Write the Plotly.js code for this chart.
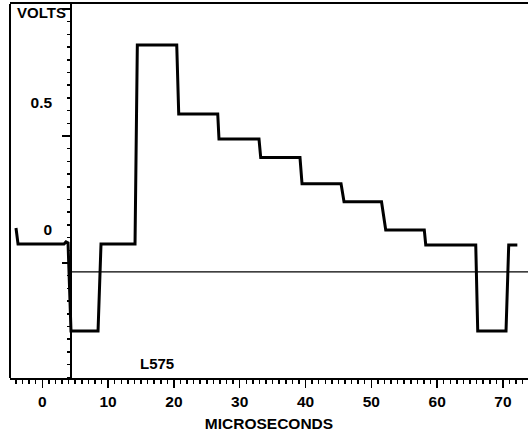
<!DOCTYPE html>
<html>
<head>
<meta charset="utf-8">
<script src="https://cdn.plot.ly/plotly-3.0.1.min.js"></script>
<style>html,body{margin:0;padding:0;background:#fff;}#chart{width:528px;height:433px;}</style>
</head>
<body>
<div id="chart"></div>
<script>
// Waveform L575 (time in microseconds, amplitude in volts)
var timeUs = [-4.0, -3.69, 3.30, 3.60, 3.91, 4.36, 8.47, 8.92, 14.09, 14.44, 20.43, 20.73, 26.66, 26.85, 32.93, 33.19, 39.16, 39.47, 45.40, 45.85, 51.55, 52.19, 58.05, 58.27, 65.87, 66.17, 70.47, 70.88, 72.19];
var volts  = [0.138, 0.075, 0.075, 0.083, 0.079, -0.268, -0.268, 0.075, 0.075, 0.858, 0.858, 0.587, 0.587, 0.488, 0.488, 0.415, 0.415, 0.312, 0.312, 0.241, 0.241, 0.130, 0.130, 0.071, 0.071, -0.268, -0.268, 0.071, 0.071];

// thin reference level line
var refLineX = [4.4, 74.0];
var refLineY = [-0.035, -0.035];

// axis settings
var xRange = [-4.91, 73.81];
var yRange = [-0.4528, 1.0197];
var yAxisAtUs = 4.4;
var yTickVals = [0, 0.5, 1.0];
var yTickText = ['0', '0.5', ''];

var FONT = 'Arial, "Liberation Sans", sans-serif';

var traces = [
  {x: timeUs, y: volts, type: 'scatter', mode: 'lines',
   line: {color: '#000', width: 3}, hoverinfo: 'skip', showlegend: false},
  {x: refLineX, y: refLineY, type: 'scatter', mode: 'lines',
   line: {color: '#000', width: 1.2}, hoverinfo: 'skip', showlegend: false}
];

var layout = {
  width: 528, height: 433,
  margin: {l: 10, r: 0, t: 4, b: 55},
  paper_bgcolor: '#fff', plot_bgcolor: '#fff',
  showlegend: false,
  font: {family: FONT, color: '#000', size: 15},
  xaxis: {
    range: xRange, showgrid: false, zeroline: false,
    showline: true, linecolor: '#000', linewidth: 2, mirror: true,
    tickmode: 'linear', tick0: 0, dtick: 10,
    ticks: 'outside', ticklen: 8, tickwidth: 1.5, tickcolor: '#000',
    minor: {tickmode: 'linear', tick0: 0, dtick: 1, ticks: 'outside', ticklen: 4, tickwidth: 1.5, tickcolor: '#000'},
    tickfont: {family: FONT, size: 15.5, weight: 'bold', color: '#000'},
    title: {text: 'MICROSECONDS', font: {family: FONT, size: 15.5, weight: 'bold', color: '#000'}, standoff: 10}
  },
  yaxis: {
    range: yRange, showgrid: false, zeroline: false,
    anchor: 'free', position: (yAxisAtUs - xRange[0]) / (xRange[1] - xRange[0]),
    showline: true, linecolor: '#000', linewidth: 2,
    tickmode: 'array', tickvals: yTickVals, ticktext: yTickText,
    ticks: 'outside', ticklen: 8, tickwidth: 1.5, tickcolor: '#000',
    minor: {tickmode: 'linear', tick0: 0, dtick: 0.05, ticks: 'outside', ticklen: 3, tickwidth: 1.5, tickcolor: '#000'},
    ticklabelshift: -33, ticklabelstandoff: 7,
    tickfont: {family: FONT, size: 15.5, weight: 'bold', color: '#000'}
  },
  shapes: [
    {type: 'line', xref: 'paper', yref: 'paper', x0: 0, x1: 0, y0: 0, y1: 1,
     line: {color: '#000', width: 2}}
  ],
  annotations: [
    {text: 'VOLTS', xref: 'paper', yref: 'paper', x: 0.0097, y: 0.976,
     xanchor: 'left', yanchor: 'middle', showarrow: false,
     font: {family: FONT, size: 15, weight: 'bold', color: '#000'}},
    {text: 'L575', xref: 'x', yref: 'y', x: 17.5, y: -0.394,
     xanchor: 'center', yanchor: 'middle', showarrow: false,
     font: {family: FONT, size: 15, weight: 'bold', color: '#000'}}
  ]
};

Plotly.newPlot('chart', traces, layout, {staticPlot: true, displayModeBar: false});
</script>
</body>
</html>
